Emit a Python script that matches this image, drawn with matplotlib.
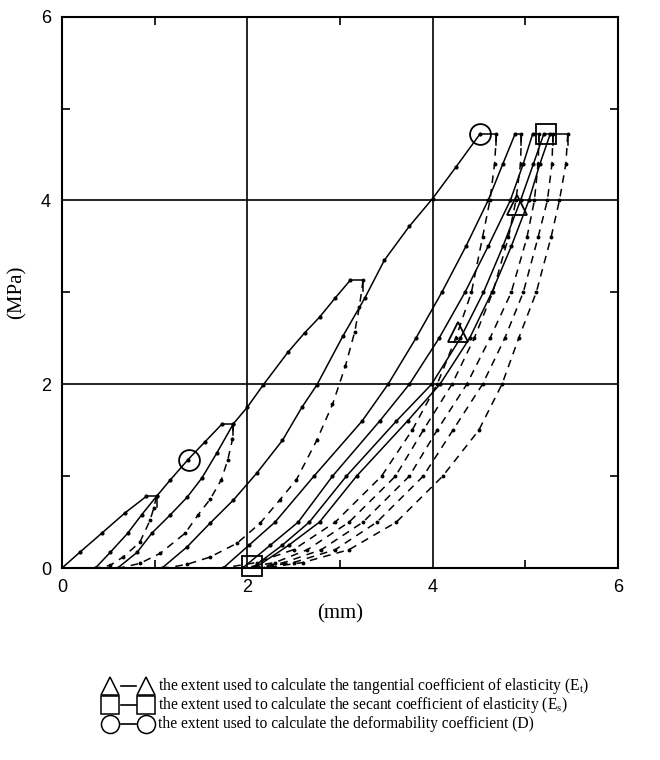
import matplotlib
matplotlib.use("Agg")
import matplotlib.pyplot as plt

plt.rcParams['mathtext.fontset'] = 'stix'

# ---------------- data (mm, MPa) ----------------
L1_x = [0, 0.19, 0.43, 0.68, 0.91]
L1_y = [0, 0.17, 0.38, 0.60, 0.78]
L2_x = [0.36, 0.52, 0.71, 0.86, 1.02, 1.17, 1.36, 1.54, 1.73]
L2_y = [0, 0.17, 0.38, 0.58, 0.78, 0.96, 1.18, 1.37, 1.57]
L3_x = [0.60, 0.81, 0.97, 1.17, 1.35, 1.51, 1.67, 1.85, 2.00, 2.17, 2.44, 2.62, 2.78, 2.95, 3.11]
L3_y = [0, 0.17, 0.38, 0.58, 0.77, 0.98, 1.25, 1.57, 1.75, 1.99, 2.35, 2.56, 2.73, 2.94, 3.13]
L4_x = [1.08, 1.35, 1.60, 1.85, 2.10, 2.38, 2.59, 2.75, 3.03, 3.27, 3.48, 3.75, 4.00, 4.25, 4.51]
L4_y = [0, 0.23, 0.49, 0.74, 1.03, 1.39, 1.75, 1.99, 2.52, 2.94, 3.35, 3.72, 4.02, 4.36, 4.72]
Lr_y = [0, 0.25, 0.50, 1.00, 1.60, 2.00, 2.50, 3.00, 3.50, 4.00, 4.40, 4.72]
L5_x = [1.74, 2.02, 2.30, 2.72, 3.24, 3.52, 3.82, 4.10, 4.36, 4.60, 4.76, 4.89]
L6_x = [1.95, 2.25, 2.55, 2.92, 3.43, 3.75, 4.07, 4.35, 4.60, 4.84, 4.98, 5.08]
L7_x = [2.05, 2.38, 2.67, 3.07, 3.61, 3.99, 4.30, 4.55, 4.76, 4.95, 5.09, 5.20]
L8_x = [2.08, 2.45, 2.78, 3.18, 3.73, 4.08, 4.40, 4.64, 4.85, 5.04, 5.16, 5.27]

U1_x = [1.02, 0.99, 0.95, 0.84, 0.66, 0.52, 0.40]
U1_y = [0.78, 0.65, 0.52, 0.28, 0.12, 0.03, 0]
U2_x = [1.85, 1.84, 1.79, 1.72, 1.60, 1.47, 1.33, 1.06, 0.84, 0.62]
U2_y = [1.57, 1.40, 1.18, 0.96, 0.75, 0.58, 0.38, 0.16, 0.05, 0]
U3_x = [3.25, 3.21, 3.16, 3.06, 2.92, 2.75, 2.53, 2.35, 2.14, 1.89, 1.60, 1.35, 1.12]
U3_y = [3.13, 2.84, 2.57, 2.20, 1.78, 1.39, 0.96, 0.74, 0.49, 0.27, 0.12, 0.04, 0]
Ur_y = [4.72, 4.40, 4.00, 3.60, 3.00, 2.50, 2.00, 1.50, 1.00, 0.50, 0.20, 0.06, 0]
U4_x = [4.69, 4.67, 4.62, 4.54, 4.42, 4.25, 4.05, 3.78, 3.45, 2.95, 2.50, 2.10, 1.74]
U5_x = [4.96, 4.95, 4.90, 4.82, 4.65, 4.45, 4.21, 3.90, 3.60, 3.10, 2.65, 2.30, 1.95]
U6_x = [5.15, 5.14, 5.10, 5.02, 4.85, 4.62, 4.37, 4.05, 3.75, 3.25, 2.80, 2.40, 2.05]
U7_x = [5.30, 5.29, 5.24, 5.14, 4.98, 4.78, 4.54, 4.22, 3.90, 3.40, 2.95, 2.50, 2.10]
U8_x = [5.46, 5.44, 5.37, 5.28, 5.12, 4.93, 4.75, 4.50, 4.11, 3.61, 3.10, 2.60, 2.18]

# holds at peak load: (start x, end x, load)
hold_x0 = [0.91, 1.73, 3.11, 4.51, 4.89, 5.08, 5.20, 5.27]
hold_x1 = [1.02, 1.85, 3.25, 4.69, 4.96, 5.15, 5.30, 5.46]
hold_y = [0.78, 1.57, 3.13, 4.72, 4.72, 4.72, 4.72, 4.72]

tri_x = [4.27, 4.91]; tri_y = [2.57, 3.95]
sq_x = [2.05, 5.23]; sq_y = [0.02, 4.72]
circ_x = [1.37, 4.51]; circ_y = [1.18, 4.72]

x_ticks = [0, 2, 4, 6]
y_ticks = [0, 2, 4, 6]

legend_texts = [
    "the extent used to calculate the tangential coefficient of elasticity (E$_{\\mathrm{t}}$)",
    "the extent used to calculate the secant coefficient of elasticity (E$_{\\mathrm{s}}$)",
    "the extent used to calculate the deformability coefficient (D)",
]
legend_markers = ['^', 's', 'o']

# ---------------- figure ----------------
fig = plt.figure(figsize=(6.6, 7.6), dpi=100)
ax = fig.add_axes([0.094, 0.2526, 0.842, 0.7254])

lw = 1.1
loads = [(L1_x, L1_y), (L2_x, L2_y), (L3_x, L3_y), (L4_x, L4_y),
         (L5_x, Lr_y), (L6_x, Lr_y), (L7_x, Lr_y), (L8_x, Lr_y)]
unloads = [(U1_x, U1_y), (U2_x, U2_y), (U3_x, U3_y),
           (U4_x, Ur_y), (U5_x, Ur_y), (U6_x, Ur_y), (U7_x, Ur_y), (U8_x, Ur_y)]
for xs, ys in loads:
    ax.plot(xs, ys, color='black', lw=lw, marker='o', ms=2.0, zorder=3)
for xs, ys in unloads:
    ax.plot(xs, ys, color='black', lw=lw, ls=(0, (5, 4)), marker='o', ms=1.8, zorder=3)
for x0, x1, y in zip(hold_x0, hold_x1, hold_y):
    ax.plot([x0, x1], [y, y], color='black', lw=lw, zorder=3)
    ax.plot([x1, x1], [y, y - 0.12], color='black', lw=lw, zorder=3)

mk = dict(color='black', mfc='none', mew=1.3, ls='none', ms=15, zorder=4, clip_on=False)
ax.plot(tri_x, tri_y, marker='^', **mk)
ax.plot(sq_x, sq_y, marker='s', **mk)
ax.plot(circ_x, circ_y, marker='o', **mk)

ax.set_xlim(0, 6)
ax.set_ylim(0, 6)
ax.set_xticks(x_ticks)
ax.set_yticks(y_ticks)
ax.set_xticks([1, 3, 5], minor=True)
ax.set_yticks([1, 3, 5], minor=True)
ax.tick_params(which='both', direction='in', top=True, right=True)
ax.tick_params(which='major', length=0, labelsize=13, pad=8)
ax.tick_params(which='minor', length=6, width=1.2)
for lab in ax.get_xticklabels() + ax.get_yticklabels():
    lab.set_family('Liberation Sans')
for s in ax.spines.values():
    s.set_linewidth(1.5)
    s.set_zorder(5)
for v in [2, 4]:
    ax.axvline(v, color='black', lw=1.2, zorder=1)
    ax.axhline(v, color='black', lw=1.2, zorder=1)

ax.set_xlabel('(mm)', family='Liberation Serif', fontsize=15, labelpad=6)
ax.set_ylabel('(MPa)', family='Liberation Serif', fontsize=15, labelpad=10)

# ---------------- legend below ----------------
lax = fig.add_axes([0, 0, 1, 0.2])
lax.set_xlim(0, 660)
lax.set_ylim(152, 0)
lax.axis('off')
rows_y = [78, 97, 116]
for ry, m, t in zip(rows_y, legend_markers, legend_texts):
    lax.plot([110, 146], [ry, ry], ls='none', marker=m, ms=13, mfc='none',
             mec='black', mew=1.1)
    lax.plot([121, 136], [ry, ry], color='black', lw=1.2)
    lax.text(158, ry, t, family='Liberation Serif', fontsize=11.2, va='center', ha='left')

fig.savefig('out.png', dpi=100)
